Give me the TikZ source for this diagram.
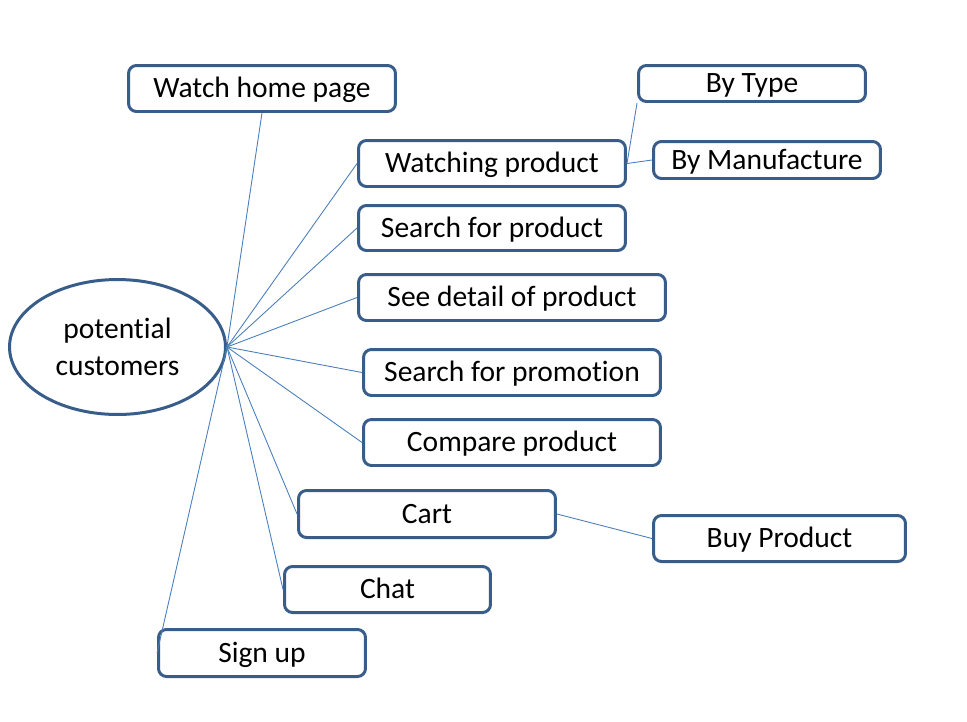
\documentclass[tikz,border=0pt]{standalone}
\usepackage{fontspec}
\setmainfont{Carlito}[Ligatures={NoCommon}]
\usetikzlibrary{shapes.geometric}
\definecolor{boxblue}{HTML}{385D8A}
\definecolor{lineblue}{HTML}{4A7EBB}

\begin{document}
\begin{tikzpicture}
            [x=0.02cm, y=-0.02cm, semithick,
             usecase/.style={shape=rectangle, draw=boxblue, line width=1.7pt, rounded corners=0.16cm,
                             minimum height=0.92cm, inner sep=0pt, text height=13.8pt, text depth=3pt,
                             font=\fontsize{16.8}{20}\selectfont},
             actor/.style={shape=ellipse, draw=boxblue, line width=1.7pt, inner sep=0pt,
                           minimum width=4.32cm, minimum height=2.7cm, align=center,
                           font=\fontsize{16.8}{21}\selectfont},
             link/.style={draw=lineblue, line width=0.5pt}]
            \useasboundingbox (0, 0) rectangle (967, 721);
            \node[actor] (cust) at (117.5, 347) {potential\\customers};
            \node[usecase, minimum width=5.34cm] (home) at (262, 88.5) {Watch home page};
            \node[usecase, minimum width=4.54cm, minimum height=0.72cm] (type) at (752, 83.5) {By Type};
            \node[usecase, minimum width=5.34cm] (watch) at (492, 163.5) {Watching product};
            \node[usecase, minimum width=4.54cm, minimum height=0.74cm] (manuf) at (767, 160) {By Manufacture};
            \node[usecase, minimum width=5.34cm, minimum height=0.9cm] (search) at (492, 228) {Search for product};
            \node[usecase, minimum width=6.14cm] (detail) at (512, 297.5) {See detail of product};
            \node[usecase, minimum width=5.94cm] (promo) at (512, 372.5) {Search for promotion};
            \node[usecase, minimum width=5.94cm] (compare) at (512, 442.5) {Compare product};
            \node[usecase, minimum width=5.14cm, minimum height=0.94cm] (cart) at (427, 514) {Cart};
            \node[usecase, minimum width=5.04cm] (buy) at (779.5, 538.5) {Buy Product};
            \node[usecase, minimum width=4.12cm] (chat) at (387.5, 589.5) {Chat};
            \node[usecase, minimum width=4.14cm, minimum height=0.94cm] (signup) at (262, 653) {Sign up};

            \path [link] (cust.east) edge (home.south);
            \path [link] (cust.east) edge (watch.west);
            \path [link] (cust.east) edge (search.west);
            \path [link] (cust.east) edge (detail.west);
            \path [link] (cust.east) edge (promo.west);
            \path [link] (cust.east) edge (compare.west);
            \path [link] (cust.east) edge (cart.west);
            \path [link] (cust.east) edge (chat.west);
            \path [link] (cust.east) edge (signup.west);
            \path [link] (watch.east) edge (type.south west);
            \path [link] (watch.east) edge (manuf.west);
            \path [link] (cart.east) edge (buy.west);
        \end{tikzpicture}
\end{document}
